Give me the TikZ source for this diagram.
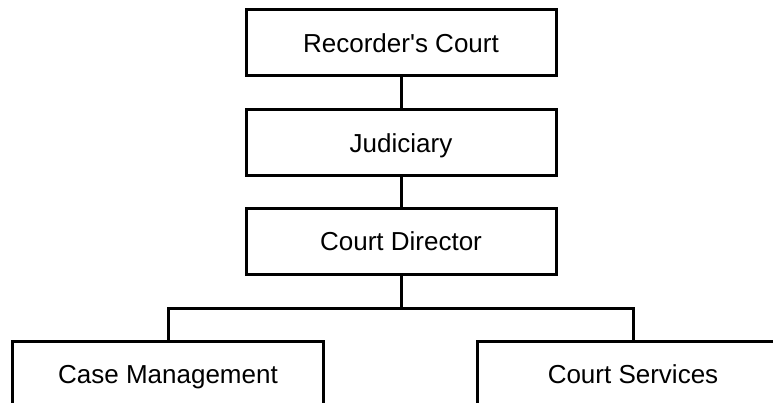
\documentclass[tikz,border=0pt]{standalone}
\usepackage{fontspec}
\newfontfamily\orgfont{Liberation Sans}
\begin{document}
\begin{tikzpicture}[x=1pt,y=-1pt,
  orgbox/.style={draw=black, line width=3pt, rectangle, fill=white,
    minimum width=310pt, minimum height=66pt, inner sep=0pt,
    text height=18.6pt, text depth=0pt,
    font=\orgfont\fontsize{26}{30}\selectfont},
  conn/.style={draw=black, line width=3pt}]
\useasboundingbox (0,0) rectangle (773,403);
\clip (0,0) rectangle (773,403);
\fill[white] (0,0) rectangle (773,403);
\node[orgbox] (rc) at (401,43) {Recorder's Court};
\node[orgbox] (jud) at (401,143) {Judiciary};
\node[orgbox] (dir) at (401,241.5) {Court Director};
\node[orgbox, minimum width=311pt] (cm) at (168,374) {Case Management};
\node[orgbox, minimum width=311pt] (cs) at (633,374) {Court Services};
\coordinate (busy) at (0,308);
\draw[conn] (rc.south) -- (jud.north);
\draw[conn] (jud.south) -- (dir.north);
\draw[conn] (dir.south) -- (dir.south |- busy);
\draw[conn] (cm.north) -- (cm.north |- busy) -- (cs.north |- busy) -- (cs.north);
\end{tikzpicture}
\end{document}
